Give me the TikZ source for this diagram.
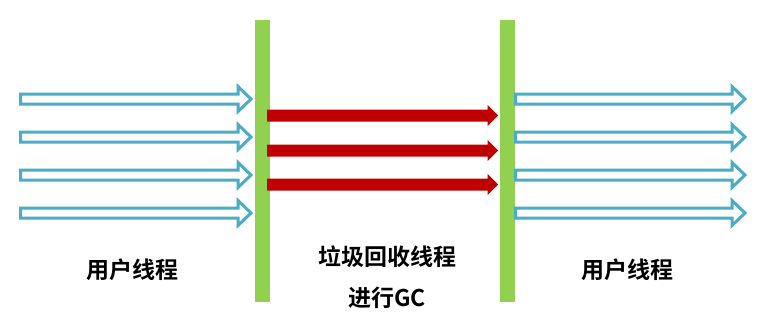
\documentclass[tikz,border=0pt]{standalone}
\usepackage{fontspec}
\newfontfamily\cjkbold{Noto Sans CJK SC Bold}
\definecolor{uarrow}{HTML}{4BACC6}
\definecolor{gcarrow}{HTML}{C00000}
\definecolor{barclr}{HTML}{92D050}
% #1 style, #2 x tail, #3 x tip, #4 y, #5 shaft half, #6 head half, #7 head length, #8 name
\newcommand\myarrow[8]{%
  \draw[#1] (#2,#4-#5) -- (#3-#7,#4-#5) -- (#3-#7,#4-#6) -- (#3,#4) -- (#3-#7,#4+#6)
    -- (#3-#7,#4+#5) -- (#2,#4+#5) -- cycle;
  \coordinate (#8) at (#3,#4);}
\begin{document}
\begin{tikzpicture}[x=1pt,y=-1pt,
  userarrow/.style={draw=uarrow,line width=3pt,fill=white,line join=miter},
  gcarr/.style={fill=gcarrow,draw=none},
  barbox/.style={fill=barclr,draw=none},
  lbl/.style={font=\cjkbold\fontsize{23}{27}\selectfont,inner sep=0pt}]
\useasboundingbox (0,0) rectangle (771,327);
\fill[white] (0,0) rectangle (771,327);
% bars
\node[barbox,minimum width=15pt,minimum height=282pt,inner sep=0pt] (barL) at (262.5,161) {};
\node[barbox,minimum width=15pt,minimum height=282pt,inner sep=0pt] (barR) at (507.5,161) {};
% left user arrows
\foreach \y/\n in {99/1,137/2,175/3,213/4}{
  \myarrow{userarrow}{20.5}{251}{\y}{5}{12.5}{13}{la\n}
}
% right user arrows
\foreach \y/\n in {99/1,137/2,175/3,213/4}{
  \myarrow{userarrow}{515.5}{745}{\y}{5}{12.5}{13}{ra\n}
}
% gc arrows
\foreach \y/\n in {115.5/1,150.5/2,184.5/3}{
  \myarrow{gcarr}{267}{498}{\y}{6}{10.5}{10.5}{ga\n}
}
% labels
\node[lbl] (t1) at (132,270) {用户线程};
\node[lbl] (t2) at (387,257) {垃圾回收线程};
\node[lbl] (t3) at (387,298) {进行GC};
\node[lbl] (t4) at (627,270) {用户线程};
\end{tikzpicture}
\end{document}
